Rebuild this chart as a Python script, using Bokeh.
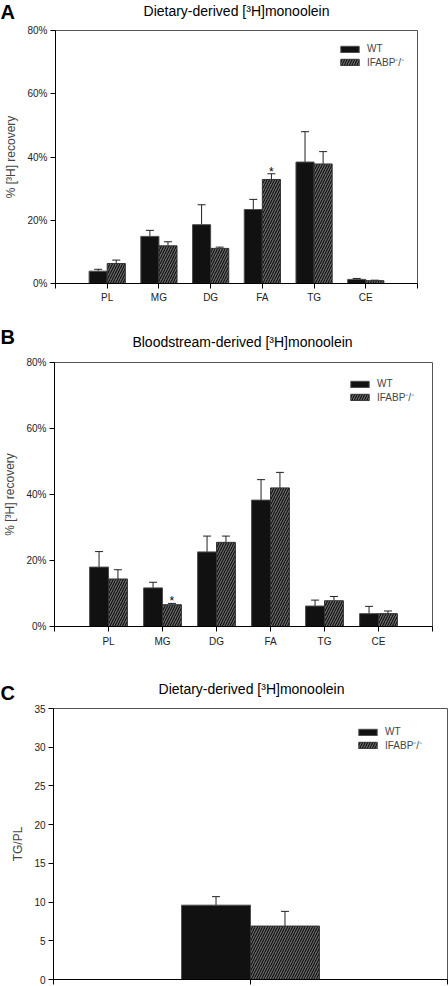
import numpy as np
from bokeh.plotting import figure
from bokeh.models import (ColumnDataSource, Whisker, TeeHead, Legend, LegendItem,
                          FixedTicker, PrintfTickFormatter, Range1d)
from bokeh.layouts import column
from bokeh.embed import file_html
from bokeh.resources import INLINE

FONT = "Liberation Sans"
W = 448

# ---------------- data ----------------
categories = ["PL", "MG", "DG", "FA", "TG", "CE"]

# Panel A: dietary-derived [3H]monoolein, % recovery (mean, SEM)
a_wt = [3.9, 14.9, 18.6, 23.4, 38.4, 1.3]
a_wt_sem = [0.6, 1.9, 6.3, 3.2, 9.6, 0.3]
a_ko = [6.3, 11.9, 11.1, 32.9, 37.8, 0.9]
a_ko_sem = [1.1, 1.3, 0.4, 1.8, 3.9, 0.15]
a_sig = ["", "", "", "*", "", ""]

# Panel B: bloodstream-derived [3H]monoolein, % recovery (mean, SEM)
b_wt = [18.0, 11.7, 22.6, 38.3, 6.2, 3.9]
b_wt_sem = [4.7, 1.7, 4.8, 6.2, 1.8, 2.2]
b_ko = [14.4, 6.6, 25.5, 42.0, 7.8, 3.9]
b_ko_sem = [2.8, 0.4, 1.9, 4.7, 1.3, 0.8]
b_sig = ["", "*", "", "", "", ""]

# Panel C: dietary-derived, TG/PL ratio
c_categories = [""]
c_wt = [9.6]
c_wt_sem = [1.1]
c_ko = [6.9]
c_ko_sem = [1.9]
c_sig = [""]

pct_ticks = [0, 20, 40, 60, 80]
ratio_ticks = [0, 5, 10, 15, 20, 25, 30, 35]

series_names = ["WT", "IFABP\u207b/\u207b"]
panel_letters = ["A", "B", "C"]
panel_titles = ["Dietary-derived [\u00b3H]monoolein",
                "Bloodstream-derived [\u00b3H]monoolein",
                "Dietary-derived [\u00b3H]monoolein"]


def no_frame_align(fig):
    try:
        fig.frame_align = False
    except Exception:
        pass


def header(letter, title, height, title_x, title_y, letter_y):
    """A thin strip above each panel that carries the panel letter and title."""
    h = figure(width=W, height=height, x_range=Range1d(0, W), y_range=Range1d(0, height),
               output_backend="svg", toolbar_location=None, min_border=0,
               x_axis_location=None, y_axis_location=None)
    no_frame_align(h)
    h.grid.visible = False
    h.outline_line_color = None
    src = ColumnDataSource(dict(x=[0], y=[letter_y], t=[letter]))
    h.text(x="x", y="y", text="t", source=src, text_align="left", text_baseline="middle",
           text_font={"value": FONT}, text_font_size="20px", text_font_style="bold",
           text_color="black")
    src2 = ColumnDataSource(dict(x=[title_x], y=[title_y], t=[title]))
    h.text(x="x", y="y", text="t", source=src2, text_align="center", text_baseline="middle",
           text_font={"value": FONT}, text_font_size="14px", text_color="black")
    return h


def panel(cats, wt, wt_sem, ko, ko_sem, sig, ymax, yticks, ylabel, pct,
          height, bl, br, bt, bb, legend_xy, xlabel_standoff):
    n = len(cats)
    p = figure(width=W, height=height, x_range=Range1d(0, n + 1), y_range=Range1d(0, ymax),
               output_backend="svg", toolbar_location=None,
               min_border_left=bl, min_border_right=br, min_border_top=bt, min_border_bottom=bb)
    no_frame_align(p)
    x = np.arange(1, n + 1)
    bw = 0.35
    wt = np.array(wt, dtype=float)
    ko = np.array(ko, dtype=float)
    src = ColumnDataSource(dict(xw=x - bw / 2, xk=x + bw / 2, wt=wt, ko=ko,
                                wt_hi=wt + np.array(wt_sem), ko_hi=ko + np.array(ko_sem),
                                sig=sig))
    r1 = p.vbar(x="xw", top="wt", width=bw, source=src, fill_color="#111111",
                line_color="#4d4d4d", line_width=1)
    r2 = p.vbar(x="xk", top="ko", width=bw, source=src, fill_color="#666666",
                line_color="#333333", line_width=1, hatch_pattern="/", hatch_color="#000000",
                hatch_scale=5, hatch_weight=1)
    for base, lo, hi in (("xw", "wt", "wt_hi"), ("xk", "ko", "ko_hi")):
        p.add_layout(Whisker(source=src, base=base, lower=lo, upper=hi,
                             upper_head=TeeHead(size=8, line_color="#222222", line_width=1),
                             lower_head=None, line_color="#222222", line_width=1))
    p.text(x="xk", y="ko_hi", text="sig", source=src, text_align="center",
           text_baseline="alphabetic", y_offset=-2, text_font_size="12px", text_color="black",
           text_font={"value": FONT})

    legend = Legend(items=[LegendItem(label=series_names[0], renderers=[r1]),
                           LegendItem(label=series_names[1], renderers=[r2])],
                    location=legend_xy, border_line_color=None, background_fill_alpha=0,
                    padding=0, margin=0, glyph_width=23, glyph_height=8,
                    label_height=8, spacing=1, label_standoff=6, label_text_font=FONT,
                    label_text_font_size="10px")
    p.add_layout(legend)

    p.grid.visible = False
    p.outline_line_color = "#555555"
    p.axis.axis_line_color = "black"
    p.axis.major_tick_line_color = "black"
    p.axis.major_tick_out = 5
    p.axis.major_tick_in = 0
    p.axis.minor_tick_line_color = None
    p.axis.major_label_text_font = FONT
    p.axis.major_label_text_font_size = "10px"
    p.axis.major_label_text_color = "#222222"
    p.axis.major_label_standoff = 3

    p.xaxis.ticker = FixedTicker(ticks=list(range(0, n + 2)))
    overrides = {0: "", n + 1: ""}
    for i, c in enumerate(cats):
        overrides[i + 1] = c
    p.xaxis.major_label_overrides = overrides
    p.xaxis.major_label_standoff = xlabel_standoff

    p.yaxis.ticker = FixedTicker(ticks=yticks)
    if pct:
        p.yaxis.formatter = PrintfTickFormatter(format="%d%%")
    p.yaxis.axis_label = ylabel
    p.yaxis.axis_label_text_font = FONT
    p.yaxis.axis_label_text_font_size = "12px"
    p.yaxis.axis_label_text_font_style = "normal"
    p.yaxis.axis_label_standoff = 6
    return p


hA = header(panel_letters[0], panel_titles[0], 24, 236, 14, 13)
pA = panel(categories, a_wt, a_wt_sem, a_ko, a_ko_sem, a_sig, 80, pct_ticks,
           "% [\u00b3H] recovery", True, 292, 55, 31, 6, 33, (283, 214), 3)
hB = header(panel_letters[1], panel_titles[1], 40, 242, 15, 20)
pB = panel(categories, b_wt, b_wt_sem, b_ko, b_ko_sem, b_sig, 80, pct_ticks,
           "% [\u00b3H] recovery", True, 310, 53, 16, 6, 40, (294, 222), 4)
hC = header(panel_letters[2], panel_titles[2], 36, 251, 14, 10)
pC = panel(c_categories, c_wt, c_wt_sem, c_ko, c_ko_sem, c_sig, 35, ratio_ticks,
           "TG/PL", False, 283, 53, 1, 6, 6, (303, 227), 3)

layout = column(hA, pA, hB, pB, hC, pC, spacing=0)
open("out.html", "w").write(file_html(layout, INLINE))
